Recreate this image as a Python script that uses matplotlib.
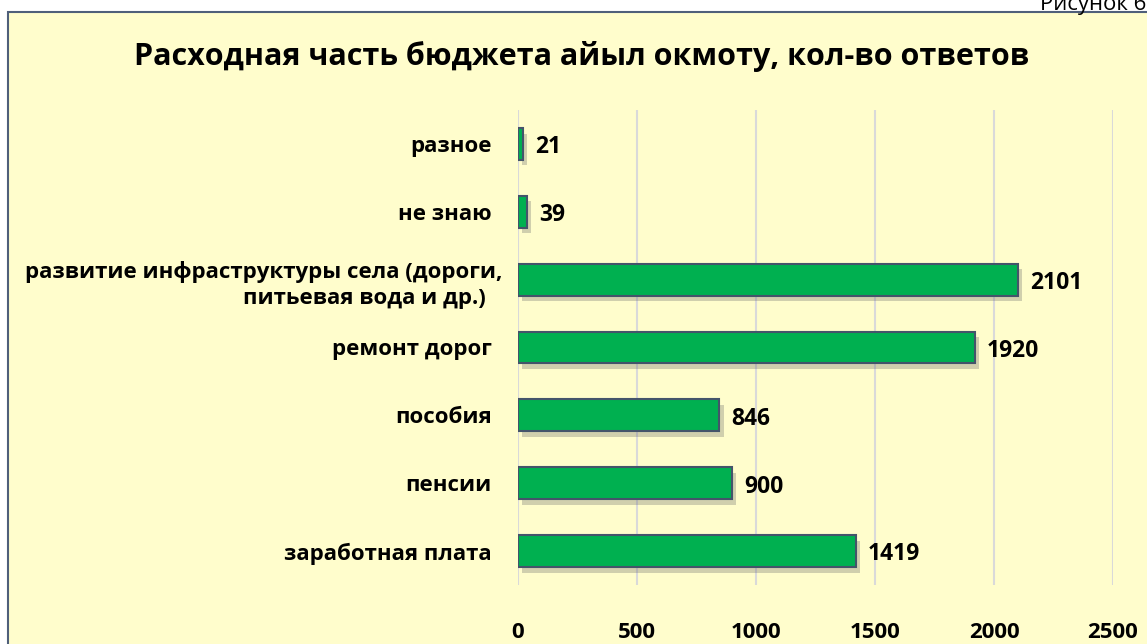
import matplotlib
matplotlib.use('Agg')
import matplotlib.pyplot as plt
import matplotlib.patheffects as pe
import matplotlib.transforms as mtransforms
from matplotlib.patches import Rectangle

# Data (bottom to top)
categories = ['заработная плата', 'пенсии', 'пособия', 'ремонт дорог',
              'развитие инфраструктуры села (дороги,\nпитьевая вода и др.)   ',
              'не знаю', 'разное']
values = [1419, 900, 846, 1920, 2101, 39, 21]
xticks = [0, 500, 1000, 1500, 2000, 2500]

title = 'Расходная часть бюджета айыл окмоту, кол-во ответов'

bg = '#FFFDCC'
green = '#00B050'
edge = '#44546A'

plt.rcParams['font.family'] = ['Open Sans', 'DejaVu Sans']

fig = plt.figure(figsize=(11.47, 6.44), dpi=100)
fig.patch.set_facecolor('white')

# chart box (runs past the right and bottom edges)
box = Rectangle((8 / 1147, -0.1), 1.2, 1 - 12 / 644 + 0.1,
                transform=fig.transFigure, facecolor=bg,
                edgecolor='#4F5F7A', linewidth=1.5, zorder=-10)
fig.patches.append(box)

fig.text(1040 / 1147, 1 + 6 / 644, 'Рисунок 6', fontsize=16,
         ha='left', va='top', color='black')

ax = fig.add_axes([518 / 1147, 1 - 585 / 644, (1113 - 518) / 1147, (585 - 110) / 644])
ax.set_facecolor('none')

ypos = list(range(len(categories)))
bars = ax.barh(ypos, values, height=0.47, color=green, edgecolor=edge,
               linewidth=1.5, zorder=3)
for b in bars:
    b.set_path_effects([pe.SimplePatchShadow(offset=(3, -4), shadow_rgbFace='#666666', alpha=0.3),
                        pe.Normal()])

for y, v in zip(ypos, values):
    ax.text(v + 50, y - 0.05, str(v), va='center', ha='left',
            fontsize=16.5, fontweight='bold', zorder=4)

ax.set_xlim(0, 2500)
ax.set_ylim(-0.5, len(categories) - 0.5)
ax.set_xticks(xticks)
ax.set_xticklabels([str(t) for t in xticks], fontsize=16, fontweight='bold')
ax.set_yticks(ypos)
ax.set_yticklabels(categories, fontsize=16, fontweight='bold', linespacing=1.32)
ax.tick_params(axis='both', length=0)
ax.tick_params(axis='y', pad=19)
ax.tick_params(axis='x', pad=27)
ax.xaxis.grid(True, color='#D9D9D9', linewidth=1.5, zorder=0)
ax.set_axisbelow(True)
for s in ax.spines.values():
    s.set_visible(False)

# the wrapped label sits a little further right in the reference
lab = ax.get_yticklabels()[4]
lab.set_multialignment('right')
lab.set_transform(lab.get_transform() + mtransforms.ScaledTranslation(11 / 100, 0, fig.dpi_scale_trans))

fig.text(582 / 1147, 1 - 57 / 644, title, fontsize=22, fontweight='bold',
         ha='center', va='center')

fig.savefig('out.png', dpi=100, facecolor=fig.get_facecolor())
